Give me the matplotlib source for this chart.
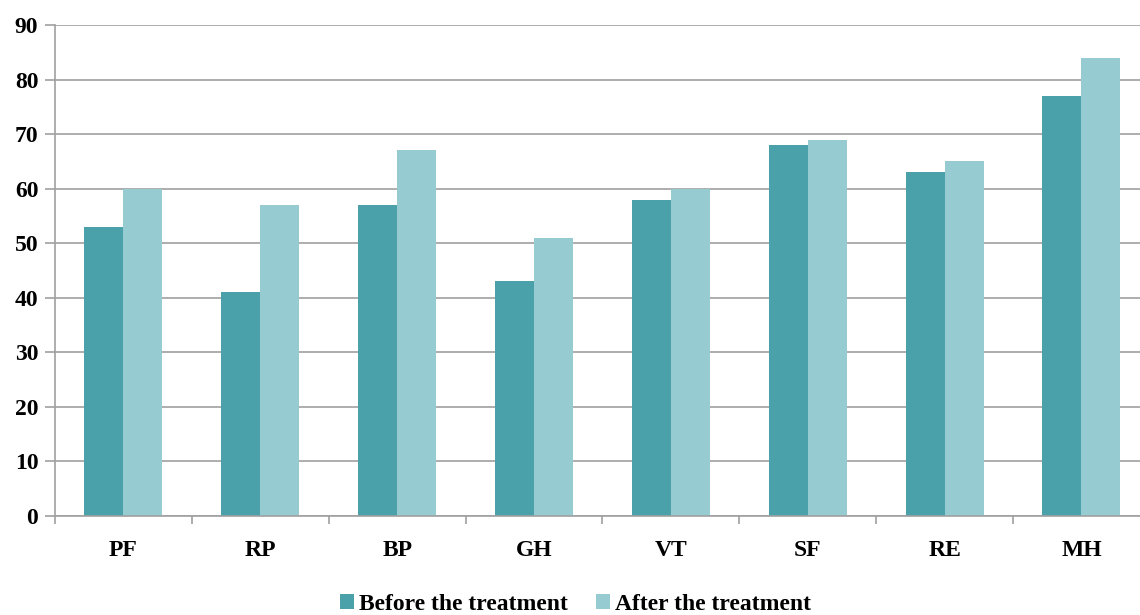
import matplotlib.pyplot as plt
import numpy as np

plt.rcParams['font.family'] = ['Liberation Serif', 'DejaVu Serif']
plt.rcParams['font.weight'] = 'bold'

# Categorias e valores
categorias = ['PF', 'RP', 'BP', 'GH', 'VT', 'SF', 'RE', 'MH']
antes = [53, 41, 57, 43, 58, 68, 63, 77]
depois = [60, 57, 67, 51, 60, 69, 65, 84]

cor_antes = '#4BA1AA'
cor_depois = '#96CBD1'
cinza = '#A0A0A0'

fig = plt.figure(figsize=(11.4, 6.15), dpi=100)
ax = fig.add_axes([0.0482, 0.161, 0.9605, 0.7983])

x = np.arange(len(categorias))
largura = 0.285
ax.bar(x - largura / 2, antes, largura, color=cor_antes, label='Before the treatment', zorder=3)
ax.bar(x + largura / 2, depois, largura, color=cor_depois, label='After the treatment', zorder=3)

ax.set_xlim(-0.5, len(categorias) - 0.5)
ax.set_ylim(0, 90)
ax.set_yticks(range(0, 91, 10))
ax.tick_params(axis='y', labelsize=17, length=7, color=cinza, width=1.2, pad=5)

# Rótulos das categorias centralizados, marcas nos limites
ax.set_xticks(np.arange(-0.5, len(categorias), 1))
ax.set_xticklabels([])
ax.set_xticks(x, minor=True)
ax.set_xticklabels(categorias, minor=True, fontsize=17, fontweight='bold')
ax.tick_params(axis='x', which='major', length=6, color=cinza, width=1.2)
ax.tick_params(axis='x', which='minor', length=0, pad=17)

ax.grid(axis='y', color=cinza, linewidth=1.2, zorder=0)
for lado in ['top', 'right']:
    ax.spines[lado].set_visible(False)
for lado in ['left', 'bottom']:
    ax.spines[lado].set_color(cinza)
    ax.spines[lado].set_linewidth(1.2)
    ax.spines[lado].set_zorder(4)

for rotulo in ax.get_yticklabels():
    rotulo.set_fontweight('bold')

fig.legend(loc='lower center', bbox_to_anchor=(0.505, -0.035), ncol=2, frameon=False,
           prop={'size': 17, 'weight': 'bold'}, handlelength=0.6, handleheight=0.6,
           handletextpad=0.2, columnspacing=1.2)

fig.savefig('out.png', dpi=100)
